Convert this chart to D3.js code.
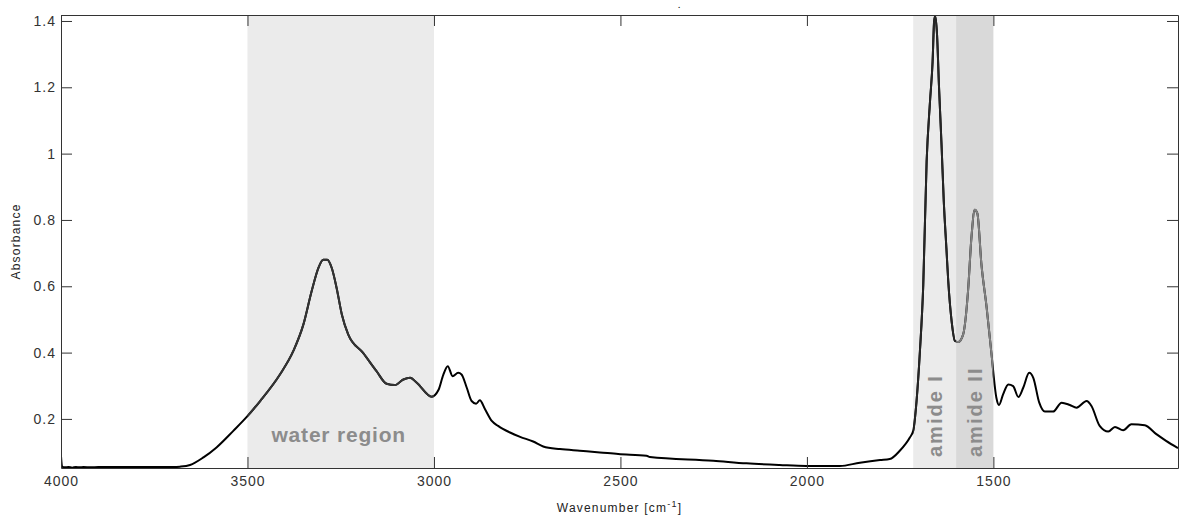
<!DOCTYPE html>
<html>
<head>
<meta charset="utf-8">
<script src="https://cdn.jsdelivr.net/npm/d3@7"></script>
<style>
    body { margin: 0; background: #fff; }
    .axis text { font-family: "Liberation Sans", Arial, sans-serif; font-size: 14px; fill: #333; letter-spacing: 1px; }
    .axis path, .axis line { stroke: #333; }
    .bandLabel { font-family: "Liberation Sans", Arial, sans-serif; font-weight: bold; fill: #8c8c8c; }
    .axisLabel { font-family: "Liberation Sans", Arial, sans-serif; font-size: 12px; fill: #222; letter-spacing: 1.2px; }
</style>
</head>
<body>
<div id="chart"></div>
<script>
// spectrum (wavenumber in cm-1, absorbance)
var wavenumber = [4000, 3997, 3990, 3980, 3970, 3960, 3950, 3940, 3920, 3900, 3850, 3800, 3750, 3700, 3681,
    3654, 3618, 3583, 3538, 3502, 3466, 3413, 3377, 3350, 3328, 3310, 3297, 3286, 3274, 3261, 3247, 3230,
    3190, 3154, 3127, 3105, 3082, 3064, 3046, 3006, 2988, 2975, 2963, 2950, 2935, 2926, 2912, 2899, 2887,
    2877, 2863, 2845, 2828, 2796, 2769, 2734, 2707, 2662, 2609, 2555, 2506, 2430, 2421, 2251, 2162, 2073,
    2001, 1912, 1858, 1804, 1778, 1751, 1724, 1715, 1706, 1697, 1688, 1679, 1670, 1663, 1659, 1656, 1651,
    1646, 1639, 1633, 1626, 1621, 1612, 1603, 1594, 1581, 1568, 1559, 1550, 1543, 1532, 1518, 1505, 1492,
    1485, 1474, 1460, 1447, 1433, 1420, 1404, 1393, 1377, 1362, 1340, 1317, 1295, 1277, 1250, 1237, 1215,
    1192, 1174, 1152, 1130, 1094, 1063, 1037, 1005];
var absorbance = [0.088, 0.056, 0.054, 0.055, 0.053, 0.055, 0.054, 0.055, 0.054, 0.055, 0.055, 0.055, 0.055, 0.055, 0.056,
    0.061, 0.084, 0.114, 0.164, 0.206, 0.254, 0.334, 0.405, 0.485, 0.585, 0.655, 0.680, 0.680, 0.655, 0.595, 0.515, 0.455,
    0.399, 0.344, 0.306, 0.302, 0.319, 0.324, 0.309, 0.267, 0.287, 0.333, 0.359, 0.329, 0.339, 0.334, 0.294, 0.254, 0.246,
    0.256, 0.229, 0.194, 0.179, 0.159, 0.146, 0.132, 0.117, 0.109, 0.104, 0.099, 0.094, 0.089, 0.085, 0.074, 0.066, 0.061,
    0.058, 0.058, 0.068, 0.076, 0.079, 0.104, 0.144, 0.164, 0.254, 0.404, 0.605, 0.976, 1.156, 1.277, 1.397, 1.415, 1.357,
    1.207, 1.026, 0.856, 0.715, 0.615, 0.495, 0.435, 0.432, 0.455, 0.585, 0.745, 0.831, 0.820, 0.665, 0.535, 0.395, 0.264,
    0.242, 0.274, 0.304, 0.299, 0.266, 0.294, 0.339, 0.324, 0.249, 0.222, 0.222, 0.249, 0.242, 0.234, 0.254, 0.239, 0.179,
    0.162, 0.176, 0.166, 0.184, 0.181, 0.154, 0.134, 0.112];

// shaded regions
var bandNames = ["water region", "amide I", "amide II"];
var bandFrom = [3500, 1715, 1600];
var bandTo = [3000, 1600, 1500];
var bandFill = ["#ebebeb", "#ebebeb", "#d9d9d9"];
var bandLine = ["#333333", "#262626", "#808080"];

var xTicks = [4000, 3500, 3000, 2500, 2000, 1500];
var yTicks = [0.2, 0.4, 0.6, 0.8, 1, 1.2, 1.4];

function init() {
    var W = 1182, H = 517;
    var left = 61, right = 1178, top = 15, bottom = 468;

    var data = wavenumber.map(function(w, i) { return { w: w, a: absorbance[i] }; });

    var xScale = d3.scaleLinear().domain([4000, 1005]).range([left, right]);
    var yScale = d3.scaleLinear().domain([0.052, 1.418]).range([bottom, top]);

    var svg = d3.select("#chart").append("svg")
        .attr("width", W)
        .attr("height", H);

    var defs = svg.append("defs");
    defs.append("clipPath").attr("id", "plotClip")
        .append("rect")
        .attr("x", left).attr("y", top)
        .attr("width", right - left).attr("height", bottom - top);

    // shaded bands
    svg.selectAll(".band").data(bandNames).enter().append("rect")
        .attr("class", "band")
        .attr("x", function(d, i) { return xScale(bandFrom[i]); })
        .attr("y", top)
        .attr("width", function(d, i) { return xScale(bandTo[i]) - xScale(bandFrom[i]); })
        .attr("height", bottom - top)
        .attr("fill", function(d, i) { return bandFill[i]; });

    // band labels
    svg.append("text")
        .attr("class", "bandLabel")
        .attr("x", xScale(3250) - 2)
        .attr("y", 442)
        .attr("text-anchor", "middle")
        .style("font-size", "21px")
        .style("letter-spacing", "0.8px")
        .text(bandNames[0]);

    [1, 2].forEach(function(i) {
        var cx = (xScale(bandFrom[i]) + xScale(bandTo[i])) / 2 + 7;
        svg.append("text")
            .attr("class", "bandLabel")
            .attr("transform", "translate(" + cx + ",457) rotate(-90)")
            .style("font-size", "20px")
            .style("letter-spacing", "2px")
            .text(bandNames[i]);
    });

    var line = d3.line()
        .x(function(d) { return xScale(d.w); })
        .y(function(d) { return yScale(d.a); })
        .curve(d3.curveMonotoneX);

    var g = svg.append("g").attr("clip-path", "url(#plotClip)");
    g.append("path")
        .datum(data)
        .attr("fill", "none")
        .attr("stroke", "#000")
        .attr("stroke-width", 2)
        .attr("stroke-linejoin", "round")
        .attr("d", line);

    // recolour the line inside each band
    bandNames.forEach(function(name, i) {
        defs.append("clipPath").attr("id", "bandClip" + i)
            .append("rect")
            .attr("x", xScale(bandFrom[i]))
            .attr("y", top)
            .attr("width", xScale(bandTo[i]) - xScale(bandFrom[i]))
            .attr("height", bottom - top);
        svg.append("g").attr("clip-path", "url(#bandClip" + i + ")")
            .append("path")
            .datum(data)
            .attr("fill", "none")
            .attr("stroke", bandLine[i])
            .attr("stroke-width", 2)
            .attr("stroke-linejoin", "round")
            .attr("d", line);
    });

    // axes, ticks pointing inward
    svg.append("g").attr("class", "axis")
        .attr("transform", "translate(0," + bottom + ")")
        .call(d3.axisBottom(xScale).tickValues(xTicks).tickSizeInner(-11).tickSizeOuter(0).tickPadding(8).tickFormat(d3.format("d")));
    svg.append("g").attr("class", "axis")
        .attr("transform", "translate(0," + top + ")")
        .call(d3.axisTop(xScale).tickValues(xTicks).tickSizeInner(-11).tickSizeOuter(0).tickFormat(""));
    svg.append("g").attr("class", "axis")
        .attr("transform", "translate(" + left + ",0)")
        .call(d3.axisLeft(yScale).tickValues(yTicks).tickSizeInner(-11).tickSizeOuter(0).tickPadding(5).tickFormat(d3.format("")));
    svg.append("g").attr("class", "axis")
        .attr("transform", "translate(" + right + ",0)")
        .call(d3.axisRight(yScale).tickValues(yTicks).tickSizeInner(-11).tickSizeOuter(0).tickFormat(""));

    svg.selectAll(".axis .domain").attr("stroke", "#333");

    // axis titles
    svg.append("text")
        .attr("class", "axisLabel")
        .attr("transform", "translate(20," + (top + bottom) / 2 + ") rotate(-90)")
        .attr("text-anchor", "middle")
        .text("Absorbance");

    var xl = svg.append("text")
        .attr("class", "axisLabel")
        .attr("x", (left + right) / 2)
        .attr("y", 512)
        .attr("text-anchor", "middle");
    xl.append("tspan").text("Wavenumber [cm");
    xl.append("tspan").attr("dy", -5).style("font-size", "9px").text("-1");
    xl.append("tspan").attr("dy", 5).text("]");

    // stray title mark
    svg.append("text")
        .attr("class", "axisLabel")
        .attr("x", 678)
        .attr("y", 8)
        .style("font-size", "8px")
        .style("font-weight", "bold")
        .text(".");
}
window.onload = init;
</script>
</body>
</html>
